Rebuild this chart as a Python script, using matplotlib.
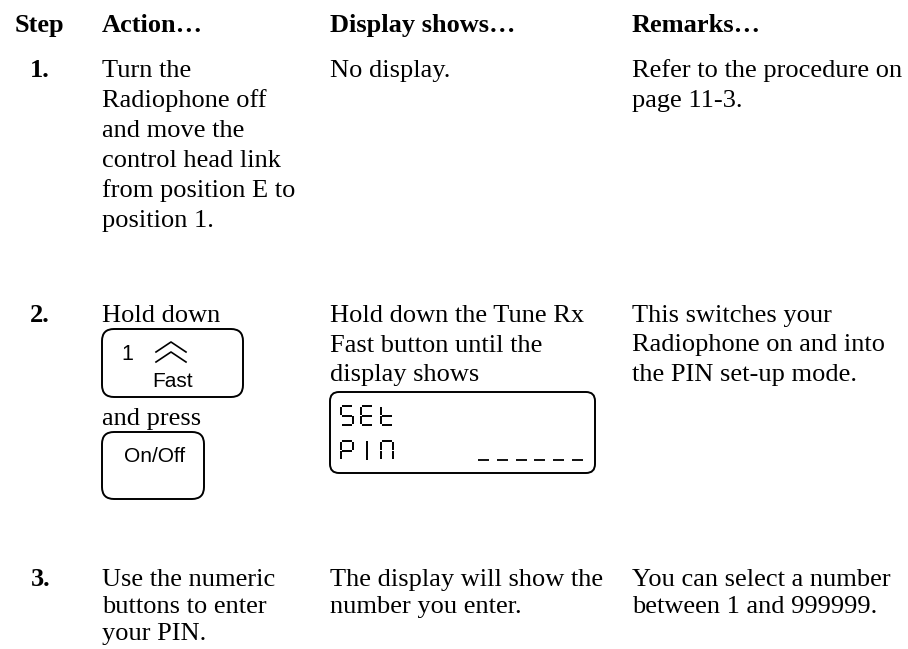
import matplotlib
matplotlib.use("Agg")
import matplotlib.pyplot as plt
from matplotlib.patches import FancyBboxPatch

# table content
headers = ["Step", "Action…", "Display shows…", "Remarks…"]
steps = ["1.", "2.", "3."]
actions = [
    ["Turn the", "Radiophone off", "and move the", "control head link",
     "from position E to", "position 1."],
    ["Hold down"],
    ["Use the numeric", "buttons to enter", "your PIN."],
]
displays = [
    ["No display."],
    ["Hold down the Tune Rx", "Fast button until the", "display shows"],
    ["The display will show the", "number you enter."],
]
remarks = [
    ["Refer to the procedure on", "page 11-3."],
    ["This switches your", "Radiophone on and into", "the PIN set-up mode."],
    ["You can select a number", "between 1 and 999999."],
]
press_text = "and press"
btn1_key, btn1_label = "1", "Fast"
btn2_label = "On/Off"
lcd_lines = ["SEt", "PIN"]
pin_digits = 6

# layout (pixels)
col_x = [15, 102, 330, 632]
step_right = 50
header_y = 32
row_y = [77, 322, 586]
row_lh = [30, 29.5, 27]
serif = "Liberation Serif"
sans = "Liberation Sans"
fs = 19

fig = plt.figure(figsize=(9.08, 6.49), dpi=100)
ax = fig.add_axes([0, 0, 1, 1])
ax.set_xlim(0, 908)
ax.set_ylim(649, 0)
ax.axis("off")

for x, h in zip(col_x, headers):
    ax.text(x, header_y, h, family=serif, weight="bold", fontsize=fs, va="baseline")

for i, y0 in enumerate(row_y):
    ax.text(step_right, y0, steps[i], family=serif, weight="bold", fontsize=fs,
            va="baseline", ha="right")
    for col, lines in zip(col_x[1:], (actions[i], displays[i], remarks[i])):
        for k, line in enumerate(lines):
            ax.text(col, y0 + k * row_lh[i], line, family=serif, fontsize=fs,
                    va="baseline")

# step 2 buttons
ax.text(col_x[1], 425, press_text, family=serif, fontsize=fs, va="baseline")


def button(x0, y0, x1, y1, r=12):
    ax.add_patch(FancyBboxPatch((x0, y0), x1 - x0, y1 - y0,
                                boxstyle="round,pad=0,rounding_size=%d" % r,
                                fc="none", ec="black", lw=1.4))


button(102, 329, 243, 397)
ax.text(127, 360, btn1_key, family=sans, fontsize=15.5, ha="center", va="baseline")
for dy in (0, 10):
    ax.plot([156, 171, 186], [352 + dy, 342 + dy, 352 + dy], color="black", lw=1.2)
ax.text(173, 387, btn1_label, family=sans, fontsize=15, ha="center", va="baseline")

button(102, 432, 204, 499)
ax.text(155, 462, btn2_label, family=sans, fontsize=15, ha="center", va="baseline")

# LCD display
button(330, 392, 595, 473, r=9)

seg_map = {
    "S": "afgcd", "E": "afged", "t": "fegd",
    "P": "abfge", "I": "v", "N": "abcef",
}


def seg_char(ch, x, top, w=12, h=19, g=0.8):
    mid = top + h / 2
    bot = top + h
    segs = {
        "a": ([x + g, x + w - g], [top, top]),
        "g": ([x + g, x + w - g], [mid, mid]),
        "d": ([x + g, x + w - g], [bot, bot]),
        "f": ([x, x], [top + g, mid - g]),
        "e": ([x, x], [mid + g, bot - g]),
        "b": ([x + w, x + w], [top + g, mid - g]),
        "c": ([x + w, x + w], [mid + g, bot - g]),
        "v": ([x + w / 2, x + w / 2], [top, bot]),
    }
    for s in seg_map[ch]:
        xs, ys = segs[s]
        ax.plot(xs, ys, color="black", lw=1.4, solid_capstyle="butt")


for line, top in zip(lcd_lines, (406, 441)):
    for j, ch in enumerate(line):
        seg_char(ch, 341 + j * 20, top)

for j in range(pin_digits):
    x = 478 + j * 18.8
    ax.plot([x, x + 11], [460, 460], color="black", lw=1.3, solid_capstyle="butt")

fig.savefig("out.png", dpi=100)
